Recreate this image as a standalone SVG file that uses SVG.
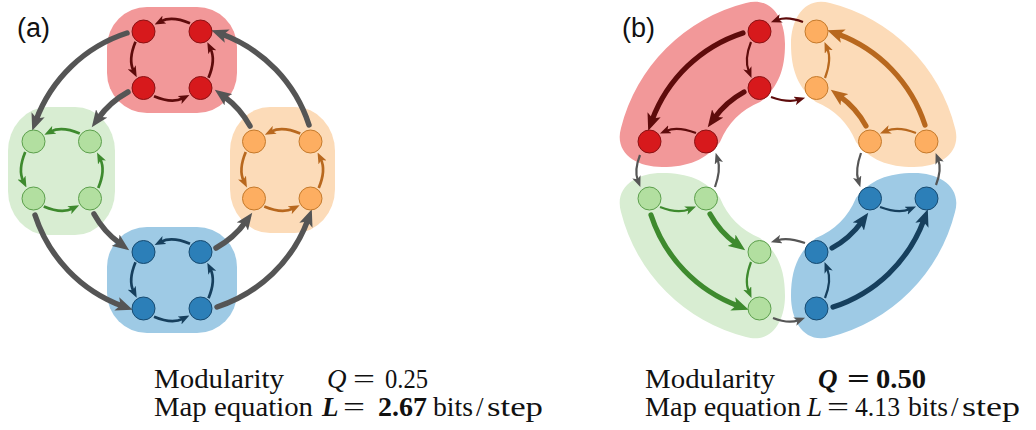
<svg xmlns="http://www.w3.org/2000/svg" width="1036" height="430" viewBox="0 0 1036 430">
<style>
.thin{fill:none;stroke-width:2.2}
.thina{fill:none;stroke-width:2.7}
.thick{fill:none;stroke-width:5.5;stroke-linecap:round}
.thickb{fill:none;stroke-width:5.2;stroke-linecap:round}
.nr{fill:#d7191c;stroke:#8a1214;stroke-width:1}
.ng{fill:#b2dfa0;stroke:#5c9f4c;stroke-width:1}
.no{fill:#fdae61;stroke:#c47a2c;stroke-width:1}
.nb{fill:#2c7fb8;stroke:#174a70;stroke-width:1}
.lab{font-family:"Liberation Sans",Arial,sans-serif;font-size:27px;fill:#111}
.tx{font-family:"Liberation Serif","Times New Roman",serif;font-size:27px;fill:#111}
.it{font-style:italic}
.bd{font-weight:bold}
</style>
<defs>
<marker id="Hgray" markerUnits="userSpaceOnUse" markerWidth="18" markerHeight="14" viewBox="0 0 18 14" refX="6" refY="7" orient="auto"><path d="M0,0 L17,7 L0,14 L4,7 Z" fill="#555555"/></marker>
<marker id="Hred" markerUnits="userSpaceOnUse" markerWidth="18" markerHeight="14" viewBox="0 0 18 14" refX="6" refY="7" orient="auto"><path d="M0,0 L17,7 L0,14 L4,7 Z" fill="#5e0b0b"/></marker>
<marker id="Hgrn" markerUnits="userSpaceOnUse" markerWidth="18" markerHeight="14" viewBox="0 0 18 14" refX="6" refY="7" orient="auto"><path d="M0,0 L17,7 L0,14 L4,7 Z" fill="#3e8a2e"/></marker>
<marker id="Horg" markerUnits="userSpaceOnUse" markerWidth="18" markerHeight="14" viewBox="0 0 18 14" refX="6" refY="7" orient="auto"><path d="M0,0 L17,7 L0,14 L4,7 Z" fill="#b8681e"/></marker>
<marker id="Hblu" markerUnits="userSpaceOnUse" markerWidth="18" markerHeight="14" viewBox="0 0 18 14" refX="6" refY="7" orient="auto"><path d="M0,0 L17,7 L0,14 L4,7 Z" fill="#163f5d"/></marker>
<marker id="hgray" markerUnits="userSpaceOnUse" markerWidth="11" markerHeight="9" viewBox="0 0 10 8" refX="3.5" refY="4" orient="auto"><path d="M0,0 L10,4 L0,8 L2.5,4 Z" fill="#555555"/></marker>
<marker id="hred" markerUnits="userSpaceOnUse" markerWidth="11" markerHeight="9" viewBox="0 0 10 8" refX="3.5" refY="4" orient="auto"><path d="M0,0 L10,4 L0,8 L2.5,4 Z" fill="#5e0b0b"/></marker>
<marker id="hgrn" markerUnits="userSpaceOnUse" markerWidth="11" markerHeight="9" viewBox="0 0 10 8" refX="3.5" refY="4" orient="auto"><path d="M0,0 L10,4 L0,8 L2.5,4 Z" fill="#3e8a2e"/></marker>
<marker id="horg" markerUnits="userSpaceOnUse" markerWidth="11" markerHeight="9" viewBox="0 0 10 8" refX="3.5" refY="4" orient="auto"><path d="M0,0 L10,4 L0,8 L2.5,4 Z" fill="#b8681e"/></marker>
<marker id="hblu" markerUnits="userSpaceOnUse" markerWidth="11" markerHeight="9" viewBox="0 0 10 8" refX="3.5" refY="4" orient="auto"><path d="M0,0 L10,4 L0,8 L2.5,4 Z" fill="#163f5d"/></marker>
<path id="blobB" d="M-167,-42 A172,172 0 0 1 -42,-167 C-17,-174 -3,-152 -3,-126 C-3,-100 -10,-82 -28,-68 A73.5,73.5 0 0 0 -68,-28 C-82,-10 -100,-3 -126,-3 C-152,-3 -174,-17 -167,-42 Z"/>
</defs>

<!-- panel labels -->
<text class="lab" x="17" y="37">(a)</text>
<text class="lab" x="622" y="37">(b)</text>

<!-- panel a blobs -->
<g id="a-blobs">
<rect x="107" y="7" width="130" height="106" rx="40" ry="40" fill="#f29899"/>
<rect x="8" y="107" width="107" height="128" rx="40" ry="44" fill="#d8edd2"/>
<rect x="230" y="107" width="105" height="126" rx="40" ry="44" fill="#fcdbb8"/>
<rect x="107" y="227" width="130" height="106" rx="40" ry="40" fill="#9ecae5"/>
</g>

<!-- panel b blobs -->
<g id="b-blobs" transform="translate(788,170)">
<use href="#blobB" fill="#f29899"/>
<use href="#blobB" fill="#d8edd2" transform="rotate(-90)"/>
<use href="#blobB" fill="#9ecae5" transform="rotate(180)"/>
<use href="#blobB" fill="#fcdbb8" transform="rotate(90)"/>
</g>

<g id="connectors">
<!-- panel a: gray inter-module arcs -->
<g transform="translate(172,170)" stroke="#555555">
<g><path class="thick" d="M-45,-137 A144.5,144.5 0 0 0 -136,-49.6" marker-end="url(#Hgray)"/><path class="thick" d="M-44,-78 A90,90 0 0 0 -73.8,-51.7" marker-end="url(#Hgray)"/></g>
<g transform="rotate(-90)"><path class="thick" d="M-45,-137 A144.5,144.5 0 0 0 -136,-49.6" marker-end="url(#Hgray)"/><path class="thick" d="M-44,-78 A90,90 0 0 0 -73.8,-51.7" marker-end="url(#Hgray)"/></g>
<g transform="rotate(180)"><path class="thick" d="M-45,-137 A144.5,144.5 0 0 0 -136,-49.6" marker-end="url(#Hgray)"/><path class="thick" d="M-44,-78 A90,90 0 0 0 -73.8,-51.7" marker-end="url(#Hgray)"/></g>
<g transform="rotate(90)"><path class="thick" d="M-45,-137 A144.5,144.5 0 0 0 -136,-49.6" marker-end="url(#Hgray)"/><path class="thick" d="M-44,-78 A90,90 0 0 0 -73.8,-51.7" marker-end="url(#Hgray)"/></g>
</g>
<!-- panel a: intra-module arcs -->
<g transform="translate(172,59.75)" stroke="#5e0b0b">
<path class="thina" d="M18,-36.5 Q0,-44 -11,-38.5" marker-end="url(#hred)"/>
<path class="thina" d="M18,-36.5 Q0,-44 -11,-38.5" transform="rotate(-90)" marker-end="url(#hred)"/>
<path class="thina" d="M18,-36.5 Q0,-44 -11,-38.5" transform="rotate(180)" marker-end="url(#hred)"/>
<path class="thina" d="M18,-36.5 Q0,-44 -11,-38.5" transform="rotate(90)" marker-end="url(#hred)"/>
</g>
<g transform="translate(61.75,170)" stroke="#3e8a2e">
<path class="thina" d="M18,-36.5 Q0,-44 -11,-38.5" marker-end="url(#hgrn)"/>
<path class="thina" d="M18,-36.5 Q0,-44 -11,-38.5" transform="rotate(-90)" marker-end="url(#hgrn)"/>
<path class="thina" d="M18,-36.5 Q0,-44 -11,-38.5" transform="rotate(180)" marker-end="url(#hgrn)"/>
<path class="thina" d="M18,-36.5 Q0,-44 -11,-38.5" transform="rotate(90)" marker-end="url(#hgrn)"/>
</g>
<g transform="translate(282.25,170)" stroke="#b8681e">
<path class="thina" d="M18,-36.5 Q0,-44 -11,-38.5" marker-end="url(#horg)"/>
<path class="thina" d="M18,-36.5 Q0,-44 -11,-38.5" transform="rotate(-90)" marker-end="url(#horg)"/>
<path class="thina" d="M18,-36.5 Q0,-44 -11,-38.5" transform="rotate(180)" marker-end="url(#horg)"/>
<path class="thina" d="M18,-36.5 Q0,-44 -11,-38.5" transform="rotate(90)" marker-end="url(#horg)"/>
</g>
<g transform="translate(172,280.25)" stroke="#163f5d">
<path class="thina" d="M18,-36.5 Q0,-44 -11,-38.5" marker-end="url(#hblu)"/>
<path class="thina" d="M18,-36.5 Q0,-44 -11,-38.5" transform="rotate(-90)" marker-end="url(#hblu)"/>
<path class="thina" d="M18,-36.5 Q0,-44 -11,-38.5" transform="rotate(180)" marker-end="url(#hblu)"/>
<path class="thina" d="M18,-36.5 Q0,-44 -11,-38.5" transform="rotate(90)" marker-end="url(#hblu)"/>
</g>

<!-- panel b -->
<g transform="translate(788,170)">
<!-- red module -->
<g stroke="#5e0b0b">
<path class="thickb" d="M-45,-137 A144.5,144.5 0 0 0 -136,-49.6" marker-end="url(#Hred)"/>
<path class="thickb" d="M-44,-78 A90,90 0 0 0 -73.8,-51.7" marker-end="url(#Hred)"/>
<path class="thin" d="M-37,-128 Q-44,-110.5 -39.2,-98.6" marker-end="url(#hred)"/>
<path class="thin" d="M-92,-37 Q-110.5,-44 -121.5,-39.3" marker-end="url(#hred)"/>
</g>
<g stroke="#555555">
<path class="thin" d="M-148,-15 Q-154,0.5 -150.2,10.4" marker-end="url(#hgray)"/>
<path class="thin" d="M-73,17 Q-67,0 -70.2,-10.3" marker-end="url(#hgray)"/>
</g>
<!-- green module -->
<g transform="rotate(-90)">
<g stroke="#3e8a2e">
<path class="thickb" d="M-45,-137 A144.5,144.5 0 0 0 -136,-49.6" marker-end="url(#Hgrn)"/>
<path class="thickb" d="M-44,-78 A90,90 0 0 0 -73.8,-51.7" marker-end="url(#Hgrn)"/>
<path class="thin" d="M-37,-128 Q-44,-110.5 -39.2,-98.6" marker-end="url(#hgrn)"/>
<path class="thin" d="M-92,-37 Q-110.5,-44 -121.5,-39.3" marker-end="url(#hgrn)"/>
</g>
<g stroke="#555555">
<path class="thin" d="M-148,-15 Q-154,0.5 -150.2,10.4" marker-end="url(#hgray)"/>
<path class="thin" d="M-73,17 Q-67,0 -70.2,-10.3" marker-end="url(#hgray)"/>
</g>
</g>
<!-- blue module -->
<g transform="rotate(180)">
<g stroke="#163f5d">
<path class="thickb" d="M-45,-137 A144.5,144.5 0 0 0 -136,-49.6" marker-end="url(#Hblu)"/>
<path class="thickb" d="M-44,-78 A90,90 0 0 0 -73.8,-51.7" marker-end="url(#Hblu)"/>
<path class="thin" d="M-37,-128 Q-44,-110.5 -39.2,-98.6" marker-end="url(#hblu)"/>
<path class="thin" d="M-92,-37 Q-110.5,-44 -121.5,-39.3" marker-end="url(#hblu)"/>
</g>
<g stroke="#555555">
<path class="thin" d="M-148,-15 Q-154,0.5 -150.2,10.4" marker-end="url(#hgray)"/>
<path class="thin" d="M-73,17 Q-67,0 -70.2,-10.3" marker-end="url(#hgray)"/>
</g>
</g>
<!-- orange module -->
<g transform="rotate(90)">
<g stroke="#b8681e">
<path class="thickb" d="M-45,-137 A144.5,144.5 0 0 0 -136,-49.6" marker-end="url(#Horg)"/>
<path class="thickb" d="M-44,-78 A90,90 0 0 0 -73.8,-51.7" marker-end="url(#Horg)"/>
<path class="thin" d="M-37,-128 Q-44,-110.5 -39.2,-98.6" marker-end="url(#horg)"/>
<path class="thin" d="M-92,-37 Q-110.5,-44 -121.5,-39.3" marker-end="url(#horg)"/>
</g>
<g stroke="#5e0b0b">
<path class="thin" d="M-148,-15 Q-154,0.5 -150.2,10.4" marker-end="url(#hred)"/>
<path class="thin" d="M-73,17 Q-67,0 -70.2,-10.3" marker-end="url(#hred)"/>
</g>
</g>
</g>
</g>

<!-- panel a nodes -->
<g id="a-r1"><circle class="nr" cx="143.5" cy="31.5" r="11.5"/></g>
<g id="a-r2"><circle class="nr" cx="200.5" cy="31.5" r="11.5"/></g>
<g id="a-r3"><circle class="nr" cx="143.5" cy="88" r="11.5"/></g>
<g id="a-r4"><circle class="nr" cx="200.5" cy="88" r="11.5"/></g>
<g id="a-g1"><circle class="ng" cx="33.5" cy="141.5" r="11.5"/></g>
<g id="a-g2"><circle class="ng" cx="90" cy="141.5" r="11.5"/></g>
<g id="a-g3"><circle class="ng" cx="33.5" cy="198.5" r="11.5"/></g>
<g id="a-g4"><circle class="ng" cx="90" cy="198.5" r="11.5"/></g>
<g id="a-o1"><circle class="no" cx="254" cy="141.5" r="11.5"/></g>
<g id="a-o2"><circle class="no" cx="310.5" cy="141.5" r="11.5"/></g>
<g id="a-o3"><circle class="no" cx="254" cy="198.5" r="11.5"/></g>
<g id="a-o4"><circle class="no" cx="310.5" cy="198.5" r="11.5"/></g>
<g id="a-b1"><circle class="nb" cx="143.5" cy="252" r="11.5"/></g>
<g id="a-b2"><circle class="nb" cx="200.5" cy="252" r="11.5"/></g>
<g id="a-b3"><circle class="nb" cx="143.5" cy="308.5" r="11.5"/></g>
<g id="a-b4"><circle class="nb" cx="200.5" cy="308.5" r="11.5"/></g>

<!-- panel b nodes -->
<g id="b-r1"><circle class="nr" cx="759.5" cy="31.5" r="11.5"/></g>
<g id="b-r2"><circle class="nr" cx="759.5" cy="88" r="11.5"/></g>
<g id="b-r3"><circle class="nr" cx="649.5" cy="141.5" r="11.5"/></g>
<g id="b-r4"><circle class="nr" cx="706" cy="141.5" r="11.5"/></g>
<g id="b-g1"><circle class="ng" cx="649.5" cy="198.5" r="11.5"/></g>
<g id="b-g2"><circle class="ng" cx="706" cy="198.5" r="11.5"/></g>
<g id="b-g3"><circle class="ng" cx="759.5" cy="252" r="11.5"/></g>
<g id="b-g4"><circle class="ng" cx="759.5" cy="308.5" r="11.5"/></g>
<g id="b-b1"><circle class="nb" cx="870" cy="198.5" r="11.5"/></g>
<g id="b-b2"><circle class="nb" cx="926.5" cy="198.5" r="11.5"/></g>
<g id="b-b3"><circle class="nb" cx="816.5" cy="252" r="11.5"/></g>
<g id="b-b4"><circle class="nb" cx="816.5" cy="308.5" r="11.5"/></g>
<g id="b-o1"><circle class="no" cx="816.5" cy="31.5" r="11.5"/></g>
<g id="b-o2"><circle class="no" cx="816.5" cy="88" r="11.5"/></g>
<g id="b-o3"><circle class="no" cx="870" cy="141.5" r="11.5"/></g>
<g id="b-o4"><circle class="no" cx="926.5" cy="141.5" r="11.5"/></g>

<!-- captions -->
<g id="caption-a">
<text class="tx" x="154" y="388" textLength="130" lengthAdjust="spacingAndGlyphs">Modularity</text>
<text class="tx it" x="327" y="388">Q</text>
<text class="tx" x="353" y="388" textLength="22" lengthAdjust="spacingAndGlyphs">=</text>
<text class="tx" x="385" y="388" textLength="43" lengthAdjust="spacingAndGlyphs">0.25</text>
<text class="tx" x="154" y="416" textLength="159" lengthAdjust="spacingAndGlyphs">Map equation</text>
<text class="tx it bd" x="322" y="416">L</text>
<text class="tx" x="343" y="416" textLength="22" lengthAdjust="spacingAndGlyphs">=</text>
<text class="tx bd" x="378" y="416" textLength="49" lengthAdjust="spacingAndGlyphs">2.67</text>
<text class="tx" x="433" y="416" textLength="40" lengthAdjust="spacingAndGlyphs">bits</text>
<text class="tx" x="476" y="416">/</text>
<text class="tx" x="487" y="416" textLength="56" lengthAdjust="spacingAndGlyphs">step</text>
</g>
<g id="caption-b">
<text class="tx" x="645" y="388" textLength="130" lengthAdjust="spacingAndGlyphs">Modularity</text>
<text class="tx it bd" x="818" y="388">Q</text>
<text class="tx bd" x="847" y="388" textLength="23" lengthAdjust="spacingAndGlyphs">=</text>
<text class="tx bd" x="876" y="388" textLength="50" lengthAdjust="spacingAndGlyphs">0.50</text>
<text class="tx" x="645" y="416" textLength="156" lengthAdjust="spacingAndGlyphs">Map equation</text>
<text class="tx it" x="807" y="416">L</text>
<text class="tx" x="827" y="416" textLength="22" lengthAdjust="spacingAndGlyphs">=</text>
<text class="tx" x="855" y="416" textLength="45" lengthAdjust="spacingAndGlyphs">4.13</text>
<text class="tx" x="908" y="416" textLength="40" lengthAdjust="spacingAndGlyphs">bits</text>
<text class="tx" x="951" y="416">/</text>
<text class="tx" x="962" y="416" textLength="58" lengthAdjust="spacingAndGlyphs">step</text>
</g>
</svg>
